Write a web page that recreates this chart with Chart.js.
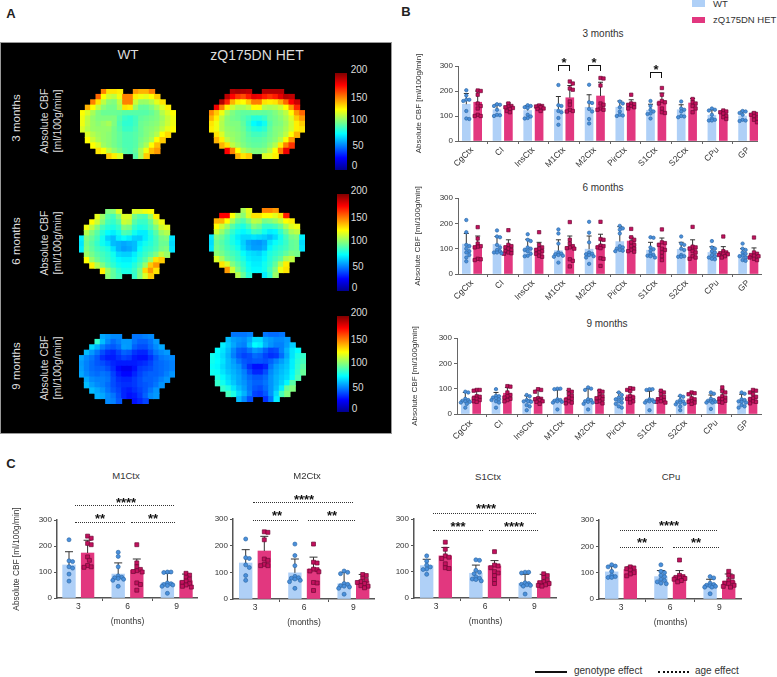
<!DOCTYPE html>
<html>
<head>
<meta charset="utf-8">
<title>Absolute CBF</title>
<script src="https://cdn.jsdelivr.net/npm/chart.js"></script>
<style>
  html, body { margin: 0; padding: 0; background: #fff; }
  body { position: relative; width: 777px; height: 677px; overflow: hidden; font-family: "Liberation Sans", Arial, sans-serif; filter: blur(0.35px); }
  canvas { position: absolute; }
  .txt { position: absolute; white-space: nowrap; transform: translate(-50%, -50%); line-height: 1; color: #333; }
  .ln { position: absolute; box-sizing: border-box; }
  #panelA { position: absolute; left: 0; top: 42px; width: 392px; height: 392px; background: #000; border: 1px solid #999; box-sizing: border-box; }
</style>
</head>
<body>
<div id="panelA"></div>
<script>
// Datos
const regions = ['CgCtx', 'CI', 'InsCtx', 'M1Ctx', 'M2Ctx', 'PirCtx', 'S1Ctx', 'S2Ctx', 'CPu', 'GP'];
const ages = ['3', '6', '9'];
const yTicks = [0, 100, 200, 300];
const colorbarLabels = [200, 150, 100, 50, 0];

// B, 3 meses
const m3WtMean = [147, 125, 122, 127, 135, 135, 123, 125, 103, 100];
const m3WtTop = [190, 147, 142, 178, 185, 160, 147, 145, 125, 120];
const m3HetMean = [155, 138, 135, 173, 180, 148, 160, 152, 112, 105];
const m3HetTop = [200, 152, 145, 222, 235, 165, 192, 170, 122, 115];
const m3WtPts = [
  [203, 182, 165, 165, 160, 120, 90, 88],
  [147, 145, 140, 125, 105, 103, 100],
  [143, 140, 135, 132, 105, 98, 92, 90],
  [224, 143, 140, 120, 115, 92, 65],
  [225, 155, 152, 128, 118, 88, 70],
  [158, 150, 135, 118, 105, 102, 100],
  [160, 140, 125, 118, 110, 108, 90],
  [158, 130, 125, 118, 100, 98, 95],
  [130, 125, 122, 105, 90, 85, 82, 82],
  [120, 118, 112, 105, 85, 82, 80]
];
const m3HetPts = [
  [202, 200, 185, 150, 140, 130, 105, 100, 100],
  [150, 140, 138, 135, 132, 128, 120, 115],
  [142, 140, 138, 135, 130, 128, 120],
  [238, 230, 210, 205, 158, 145, 125, 120, 118],
  [252, 250, 222, 150, 145, 130, 125, 125],
  [185, 150, 148, 145, 140, 135, 130],
  [212, 185, 160, 155, 150, 130, 115, 112],
  [168, 155, 150, 140, 130, 115],
  [122, 118, 115, 110, 100, 95, 88],
  [112, 108, 105, 100, 90, 85, 75]
];

// B, 6 meses
const m6WtMean = [118, 117, 103, 92, 98, 128, 94, 97, 85, 78];
const m6WtTop = [160, 148, 137, 135, 150, 187, 125, 125, 108, 100];
const m6HetMean = [112, 112, 102, 107, 112, 130, 122, 108, 85, 77];
const m6HetTop = [150, 135, 125, 150, 157, 145, 142, 135, 108, 103];
const m6WtPts = [
  [213, 165, 115, 110, 100, 90, 85, 75, 65, 50],
  [172, 148, 145, 115, 105, 95, 90, 85, 85, 82],
  [157, 135, 130, 105, 100, 95, 90, 80, 72, 70],
  [176, 160, 120, 85, 80, 78, 75, 72, 68, 45],
  [206, 163, 125, 85, 80, 78, 75, 70, 65, 40],
  [190, 180, 175, 160, 110, 105, 100, 95, 92, 90],
  [145, 143, 105, 98, 92, 80, 75, 72, 70, 65],
  [148, 120, 115, 100, 95, 75, 70, 68, 68],
  [130, 105, 100, 90, 85, 75, 70, 65, 60, 58],
  [120, 100, 95, 85, 80, 72, 70, 65, 55, 52]
];
const m6HetPts = [
  [185, 140, 120, 110, 108, 105, 60, 58, 55],
  [173, 115, 110, 105, 100, 95, 90, 85, 82, 80],
  [165, 115, 105, 100, 95, 90, 85, 80, 72, 68],
  [205, 135, 120, 110, 105, 102, 100, 58, 52, 30],
  [206, 138, 135, 112, 110, 105, 102, 62, 60, 32],
  [178, 145, 135, 125, 115, 110, 100, 95, 90, 88],
  [176, 125, 122, 115, 100, 95, 85, 70, 55],
  [186, 108, 105, 100, 90, 85, 70, 65, 60],
  [148, 90, 85, 82, 80, 78, 75, 70, 65],
  [144, 85, 80, 75, 72, 70, 65, 60, 55]
];

// B, 9 meses
const m9WtMean = [53, 65, 54, 58, 57, 62, 56, 48, 54, 54];
const m9WtTop = [85, 85, 72, 95, 100, 85, 90, 70, 75, 78];
const m9HetMean = [72, 82, 65, 66, 67, 75, 65, 60, 68, 67];
const m9HetTop = [95, 105, 95, 92, 92, 100, 90, 82, 95, 90];
const m9WtPts = [
  [88, 85, 60, 55, 52, 50, 48, 45, 40, 25],
  [98, 72, 70, 65, 62, 58, 55, 50, 45, 25],
  [75, 70, 55, 52, 50, 50, 48, 35, 30, 15],
  [100, 100, 98, 58, 55, 52, 50, 48, 45, 18],
  [105, 100, 95, 58, 55, 50, 48, 45, 40, 18],
  [85, 75, 65, 60, 58, 50, 45, 40, 30, 25],
  [98, 98, 95, 58, 55, 52, 50, 48, 45, 15],
  [72, 68, 55, 50, 48, 45, 40, 38, 30, 15],
  [85, 80, 60, 55, 52, 50, 48, 45, 45, 20],
  [85, 80, 58, 55, 50, 48, 45, 35, 30, 25]
];
const m9HetPts = [
  [95, 95, 92, 70, 68, 62, 60, 55, 50, 48],
  [110, 108, 85, 75, 70, 65, 60, 55, 50],
  [98, 95, 88, 62, 60, 58, 55, 50, 48, 40],
  [95, 88, 80, 72, 65, 60, 55, 50, 45, 42],
  [92, 88, 78, 70, 65, 62, 58, 50, 48, 42],
  [102, 100, 95, 90, 70, 65, 60, 58, 50, 45],
  [92, 85, 78, 68, 62, 58, 55, 50, 48, 45],
  [85, 82, 78, 62, 58, 50, 48, 45, 40],
  [105, 90, 85, 70, 65, 60, 58, 52, 48, 45],
  [95, 92, 85, 78, 68, 62, 58, 50, 48, 42]
];

// A, mapas de CBF (ml/100g/min), una fila por linea
const _ = null;
const brainWt3 = [
  [_, _, _, _, 150, 130, 130, 128, _, _, 145, 140, 140, 150, _, _, _, _],
  [_, _, _, 155, 125, 115, 112, 122, 150, 150, 128, 122, 120, 125, 135, _, _, _],
  [_, _, 150, 130, 112, 102, 100, 112, 150, 150, 115, 105, 105, 110, 120, 130, _, _],
  [_, 140, 125, 112, 102, 98, 98, 108, 130, 128, 105, 95, 95, 100, 108, 118, 128, _],
  [125, 118, 108, 100, 96, 96, 96, 95, 92, 92, 92, 92, 92, 95, 100, 110, 118, 125],
  [122, 112, 104, 100, 100, 100, 100, 92, 86, 84, 88, 94, 96, 98, 100, 106, 114, 122],
  [122, 112, 105, 102, 105, 108, 100, 90, 84, 84, 88, 96, 98, 100, 102, 108, 115, 122],
  [118, 110, 105, 104, 104, 104, 98, 92, 86, 86, 90, 96, 100, 102, 105, 112, 120, 125],
  [_, 118, 110, 106, 104, 102, 98, 94, 90, 90, 92, 96, 100, 104, 110, 125, 132, _],
  [_, 125, 115, 108, 104, 102, 98, 94, 90, 90, 92, 98, 102, 108, 125, 135, _, _],
  [_, _, 125, 118, 106, 102, 98, 94, 90, 90, 92, 100, 108, 125, 138, _, _, _],
  [_, _, _, 130, 124, 112, 104, 98, 92, 90, 94, 108, 122, 138, 145, _, _, _],
  [_, _, _, _, _, 135, 128, 118, _, _, 92, 108, 135, _, _, _, _, _]
];
const brainHet3 = [
  [_, _, _, _, 190, 192, 190, 188, _, _, 190, 190, 190, 190, _, _, _, _],
  [_, _, _, 188, 175, 165, 160, 170, 180, 178, 170, 165, 170, 180, 190, 188, _, _],
  [_, _, 190, 168, 140, 128, 125, 135, 150, 150, 130, 128, 130, 140, 155, 175, 185, _],
  [_, 178, 150, 128, 115, 108, 108, 112, 125, 125, 110, 108, 110, 115, 125, 145, 168, _],
  [148, 135, 122, 108, 100, 96, 94, 94, 95, 95, 94, 96, 100, 105, 112, 125, 145, 155],
  [140, 128, 112, 102, 98, 96, 92, 88, 82, 82, 86, 95, 98, 102, 108, 118, 135, 145],
  [130, 122, 110, 102, 100, 100, 94, 85, 75, 72, 78, 92, 98, 100, 106, 115, 128, 135],
  [128, 122, 110, 104, 102, 100, 96, 88, 82, 80, 84, 94, 100, 102, 108, 116, 128, 130],
  [_, 130, 118, 106, 104, 102, 98, 92, 88, 88, 90, 96, 100, 104, 112, 125, 140, _],
  [_, 140, 128, 112, 106, 102, 98, 94, 92, 92, 94, 98, 102, 110, 124, 145, _, _],
  [_, _, 140, 130, 112, 106, 100, 96, 94, 94, 96, 102, 110, 128, 150, 165, _, _],
  [_, _, _, 175, 150, 125, 110, 104, 100, 100, 102, 110, 125, 150, 178, _, _, _],
  [_, _, _, _, _, 140, 130, 135, _, _, 118, 120, 128, _, _, _, _, _]
];
const brainWt6 = [
  [_, _, _, _, _, 100, 102, 118, _, _, 118, 118, 122, 125, _, _, _, _],
  [_, _, _, 120, 105, 92, 88, 100, 118, 118, 98, 92, 90, 105, 128, _, _, _],
  [_, _, 125, 115, 100, 88, 85, 92, 115, 112, 92, 86, 86, 95, 112, 122, _, _],
  [_, 122, 112, 100, 88, 82, 80, 85, 100, 98, 85, 80, 82, 90, 100, 115, 120, _],
  [_, 110, 100, 92, 82, 75, 72, 78, 90, 88, 78, 72, 72, 82, 92, 105, 110, _],
  [72, 100, 95, 88, 78, 66, 62, 72, 76, 72, 66, 65, 72, 80, 88, 98, 100, 70],
  [70, 98, 92, 85, 78, 72, 62, 60, 58, 60, 62, 72, 78, 82, 88, 96, 96, 68],
  [72, 100, 94, 88, 84, 80, 70, 60, 56, 58, 62, 75, 82, 85, 90, 98, 100, 70],
  [_, 105, 98, 92, 88, 84, 78, 68, 66, 66, 72, 80, 86, 92, 100, 112, 105, _],
  [_, 125, 105, 96, 90, 86, 80, 74, 72, 72, 76, 84, 92, 105, 130, 135, _, _],
  [_, _, 128, 110, 100, 90, 84, 78, 76, 76, 82, 90, 105, 135, 145, _, _, _],
  [_, _, _, _, 128, 105, 94, 85, 80, 80, 86, 98, 132, 145, 130, _, _, _],
  [_, _, _, _, _, 102, 94, 88, _, _, 85, 100, 118, 135, _, _, _, _]
];
const brainHet6 = [
  [_, _, _, _, _, _, 108, 120, _, _, 150, 150, 145, _, _, _, _, _],
  [_, _, 175, 175, 125, 108, 102, 118, 130, 130, 125, 125, 120, 130, 170, _, _, _],
  [_, 140, 140, 125, 108, 95, 90, 100, 112, 110, 98, 100, 105, 112, 125, 128, _, _],
  [_, 125, 115, 105, 92, 84, 80, 88, 100, 96, 85, 85, 88, 95, 108, 118, 122, _],
  [_, 115, 105, 95, 85, 78, 74, 78, 88, 86, 78, 72, 74, 84, 96, 108, 112, _],
  [70, 100, 96, 88, 80, 72, 68, 68, 70, 68, 66, 62, 68, 78, 88, 98, 100, 72],
  [68, 96, 92, 86, 80, 74, 66, 58, 55, 54, 58, 70, 76, 80, 86, 94, 96, 68],
  [70, 98, 94, 88, 84, 78, 68, 60, 56, 56, 60, 74, 80, 84, 88, 94, 96, 70],
  [_, 102, 98, 92, 88, 84, 76, 70, 68, 66, 72, 80, 84, 88, 94, 100, 98, _],
  [_, 118, 108, 96, 92, 86, 80, 72, 70, 70, 74, 82, 88, 94, 108, 112, _, _],
  [_, _, 130, 118, 100, 92, 84, 76, 72, 72, 78, 84, 94, 110, 128, _, _, _],
  [_, _, _, 145, 115, 98, 88, 78, 74, 74, 78, 88, 100, 122, 130, _, _, _],
  [_, _, _, _, _, 110, 95, 82, _, _, 72, 84, 105, _, _, _, _, _]
];
const brainWt9 = [
  [_, _, _, _, 58, 55, 52, 52, _, _, 48, 48, 50, 52, _, _, _, _],
  [_, _, _, 85, 62, 52, 46, 50, 55, 55, 48, 44, 44, 48, 55, _, _, _],
  [_, _, 68, 60, 50, 44, 42, 46, 56, 55, 44, 40, 40, 46, 52, 58, _, _],
  [_, 62, 55, 48, 40, 34, 32, 38, 44, 42, 35, 32, 32, 40, 48, 52, 55, _],
  [58, 52, 48, 42, 34, 30, 30, 34, 38, 36, 30, 28, 28, 34, 42, 48, 50, 52],
  [55, 50, 46, 42, 40, 36, 32, 30, 30, 30, 30, 32, 34, 38, 44, 46, 48, 50],
  [56, 50, 46, 44, 44, 40, 34, 26, 22, 22, 28, 36, 38, 40, 44, 46, 48, 50],
  [58, 52, 48, 46, 48, 46, 38, 30, 26, 26, 32, 38, 42, 44, 44, 46, 50, 54],
  [_, 58, 52, 50, 50, 48, 40, 34, 32, 32, 36, 40, 44, 44, 46, 50, 54, _],
  [_, 62, 56, 52, 50, 46, 40, 36, 34, 34, 36, 40, 42, 44, 48, 54, _, _],
  [_, _, 62, 58, 54, 48, 42, 38, 32, 30, 34, 38, 42, 48, 54, _, _, _],
  [_, _, _, 60, 58, 52, 48, 40, 32, 28, 30, 36, 44, 52, 55, _, _, _],
  [_, _, _, _, _, 52, 50, 42, _, _, 28, 32, 38, _, _, _, _, _]
];
const brainHet9 = [
  [_, _, _, _, 48, 48, 48, 50, _, _, 48, 46, 46, 48, _, _, _, _],
  [_, _, _, 62, 56, 54, 52, 58, 68, 68, 58, 55, 52, 52, 55, _, _, _],
  [_, _, 72, 65, 58, 52, 50, 62, 75, 72, 60, 54, 50, 50, 56, 65, _, _],
  [_, 75, 70, 62, 52, 44, 42, 48, 55, 52, 44, 38, 40, 50, 60, 70, 75, _],
  [78, 74, 68, 60, 50, 42, 38, 40, 46, 44, 38, 34, 36, 46, 58, 70, 80, 85],
  [78, 75, 70, 62, 56, 48, 42, 40, 42, 42, 40, 44, 50, 56, 62, 72, 82, 88],
  [76, 74, 68, 62, 58, 54, 44, 34, 28, 28, 32, 48, 56, 60, 64, 72, 84, 92],
  [78, 76, 70, 64, 60, 56, 50, 40, 32, 32, 40, 52, 58, 62, 66, 74, 86, 95],
  [_, 80, 74, 68, 62, 58, 52, 46, 42, 42, 46, 54, 60, 64, 68, 76, 90, _],
  [_, 85, 78, 70, 64, 58, 54, 48, 44, 44, 48, 54, 60, 66, 74, 92, _, _],
  [_, _, 85, 80, 70, 62, 56, 48, 42, 40, 46, 54, 62, 72, 95, 100, _, _],
  [_, _, _, 88, 80, 68, 60, 50, 38, 36, 42, 54, 68, 88, 100, _, _, _],
  [_, _, _, _, _, 62, 52, 40, _, _, 34, 48, 72, _, _, _, _, _]
];

const WT_BAR = '#afd0f7', HET_BAR = '#e2377f';
const WT_DOT = '#4a90dc', WT_EDGE = '#2f6aa8', HET_DOT = '#c4105e', HET_EDGE = '#6d0a35';
const INK = '#333';
const TOP_ROOM = 18;

// Helpers para texto y lineas en la pagina
function addText(txt, x, y, size, opts = {}) {
  const d = document.createElement('div');
  d.className = 'txt';
  d.textContent = txt;
  d.style.left = x + 'px';
  d.style.top = y + 'px';
  d.style.fontSize = size + 'px';
  if (opts.color) d.style.color = opts.color;
  if (opts.bold) d.style.fontWeight = 'bold';
  if (opts.left) d.style.transform = 'translate(0, -50%)';
  if (opts.rot) d.style.transform = 'translate(-50%, -50%) rotate(' + opts.rot + 'deg)';
  document.body.appendChild(d);
}

function addLine(x0, x1, y, border) {
  const d = document.createElement('div');
  d.className = 'ln';
  d.style.left = x0 + 'px';
  d.style.top = y + 'px';
  d.style.width = (x1 - x0) + 'px';
  d.style.height = '0';
  d.style.borderTop = border;
  document.body.appendChild(d);
}

function addBracket(x0, x1, top, bottom) {
  const d = document.createElement('div');
  d.className = 'ln';
  d.style.left = x0 + 'px';
  d.style.top = top + 'px';
  d.style.width = (x1 - x0) + 'px';
  d.style.height = (bottom - top) + 'px';
  d.style.border = '1.5px solid #111';
  d.style.borderBottom = 'none';
  document.body.appendChild(d);
}

function addStars(txt, x, y) {
  addText(txt, x, y + 2.5, 13, { color: '#111', bold: true });
}

function addCanvas(left, top, w, h) {
  const c = document.createElement('canvas');
  c.width = w;
  c.height = h;
  c.style.left = left + 'px';
  c.style.top = top + 'px';
  document.body.appendChild(c);
  return c;
}

// Mapa de color tipo jet sobre 0-200
function jet(v) {
  const t = v / 200;
  const f = p => Math.round(255 * Math.max(0, Math.min(1, 1.5 - Math.abs(4 * t - p))));
  return 'rgb(' + f(3) + ',' + f(2) + ',' + f(1) + ')';
}

// Un mapa cerebral como scatter de celdas cuadradas
function brainMap(rows, left, top) {
  const cells = [];
  rows.forEach((row, r) => row.forEach((v, c) => {
    if (v !== null) cells.push({ x: c + 0.5, y: r + 0.5, v: v });
  }));
  const canvas = addCanvas(left, top, 96, 70);
  canvas.style.filter = 'blur(0.6px)';
  new Chart(canvas, {
    type: 'scatter',
    data: {
      datasets: [{
        data: cells,
        clip: false,
        pointStyle: 'rect',
        pointRadius: 4.5,
        pointBorderWidth: 0,
        pointBackgroundColor: ctx => jet(ctx.raw.v)
      }]
    },
    options: {
      animation: false,
      responsive: false,
      layout: { padding: 0, autoPadding: false },
      plugins: { legend: { display: false }, tooltip: { enabled: false } },
      scales: {
        x: { type: 'linear', min: 0, max: 18, display: false },
        y: { type: 'linear', min: 0, max: 13, reverse: true, display: false }
      }
    }
  });
}

function colorbar(x, top, bottom, labelX, labelYs) {
  const d = document.createElement('div');
  d.style.cssText = 'position:absolute;left:' + x + 'px;top:' + top + 'px;width:12px;height:' + (bottom - top) + 'px;' +
    'background:linear-gradient(to top,#00008f 0%,#0000ff 12.5%,#00ffff 37.5%,#ffff00 62.5%,#ff0000 87.5%,#800000 100%);';
  document.body.appendChild(d);
  colorbarLabels.forEach((lab, i) => addText(String(lab), labelX + (lab >= 100 ? 8 : lab >= 50 ? 7 : 3.5), labelYs[i], 10, { color: '#ddd' }));
}

// Reparte los puntos dentro del ancho de la barra, como en un beeswarm
function swarm(vals, center, step, yScale, gap, maxOff) {
  const placed = [];
  return vals.map(v => {
    let best = 0, bestDist = -1;
    for (let k = 0; ; k++) {
      const off = (k % 2 ? (k + 1) / 2 : -k / 2) * gap * 0.5;
      if (Math.abs(off) > maxOff) break;
      const dist = Math.min(Infinity, ...placed.map(p => Math.hypot(p.off - off, (p.v - v) * yScale)));
      if (dist >= gap) { best = off; bestDist = dist; break; }
      if (dist > bestDist) { best = off; bestDist = dist; }
    }
    placed.push({ off: best, v: v });
    return { x: center + best / step, y: v };
  });
}

// Panel de barras con error y puntos individuales
function barPanel(cfg) {
  const top = cfg.y300 - TOP_ROOM;
  const height = cfg.y0 - top + cfg.below;
  const width = cfg.axisRight - cfg.left;
  const yScale = (cfg.y0 - cfg.y300) / 300;
  const canvas = addCanvas(cfg.left, top, width, height);

  const wtDots = [], hetDots = [];
  cfg.wtPts.forEach((vals, i) => wtDots.push(...swarm(vals, i - cfg.off / cfg.step, cfg.step, yScale, cfg.gap, cfg.spread)));
  cfg.hetPts.forEach((vals, i) => hetDots.push(...swarm(vals, i + cfg.off / cfg.step, cfg.step, yScale, cfg.gap, cfg.spread)));

  // Barras de error, con el mismo eje que los datos
  const errorBars = {
    id: 'errorBars',
    afterDatasetDraw(chart, args) {
      if (args.index !== 1) return;
      const { x, y } = chart.scales;
      const ctx = chart.ctx;
      const one = (i, dx, mean, top) => {
        const px = x.getPixelForValue(i + dx / cfg.step);
        ctx.beginPath();
        ctx.moveTo(px, y.getPixelForValue(mean));
        ctx.lineTo(px, y.getPixelForValue(top));
        ctx.moveTo(px - cfg.cap, y.getPixelForValue(top));
        ctx.lineTo(px + cfg.cap, y.getPixelForValue(top));
        ctx.stroke();
      };
      ctx.save();
      ctx.strokeStyle = '#333';
      ctx.lineWidth = 1;
      cfg.wtMean.forEach((m, i) => one(i, -cfg.off, m, cfg.wtTop[i]));
      cfg.hetMean.forEach((m, i) => one(i, cfg.off, m, cfg.hetTop[i]));
      ctx.restore();
    }
  };

  new Chart(canvas, {
    type: 'bar',
    plugins: [errorBars],
    data: {
      datasets: [
        { label: 'WT', data: cfg.wtMean.map((m, i) => ({ x: i - cfg.off / cfg.step, y: m })), backgroundColor: WT_BAR, barThickness: cfg.barW, grouped: false, order: 3 },
        { label: 'zQ175DN HET', data: cfg.hetMean.map((m, i) => ({ x: i + cfg.off / cfg.step, y: m })), backgroundColor: HET_BAR, barThickness: cfg.barW, grouped: false, order: 2 },
        { type: 'scatter', data: wtDots, pointStyle: 'circle', pointRadius: cfg.dot, pointBackgroundColor: WT_DOT, pointBorderColor: WT_EDGE, pointBorderWidth: 0.7, order: 1 },
        { type: 'scatter', data: hetDots, pointStyle: 'rect', pointRadius: cfg.dot * 1.4, pointBackgroundColor: HET_DOT, pointBorderColor: HET_EDGE, pointBorderWidth: 0.7, order: 1 }
      ]
    },
    options: {
      animation: false,
      responsive: false,
      layout: { padding: { top: TOP_ROOM, right: 0, bottom: 0, left: 0 }, autoPadding: false },
      plugins: { legend: { display: false }, tooltip: { enabled: false } },
      scales: {
        x: {
          type: 'linear',
          offset: false,
          min: (cfg.axisX - cfg.first) / cfg.step,
          max: (cfg.axisRight - cfg.first) / cfg.step,
          afterBuildTicks: s => { s.ticks = cfg.cats.map((c, i) => ({ value: i })); },
          afterFit: s => { s.height = cfg.below; },
          border: { color: cfg.axisColor, width: cfg.axisWidth },
          grid: { drawOnChartArea: false, color: cfg.axisColor, tickLength: 3 },
          ticks: {
            autoSkip: false,
            maxRotation: cfg.rot,
            minRotation: cfg.rot,
            padding: 1,
            color: INK,
            font: { size: cfg.catSize, family: 'Liberation Sans' },
            callback: v => cfg.cats[v]
          },
          title: cfg.xTitle
            ? { display: true, text: cfg.xTitle, color: INK, font: { size: 8.5, family: 'Liberation Sans' }, padding: 0 }
            : { display: false }
        },
        y: {
          type: 'linear',
          min: 0,
          max: 300,
          afterBuildTicks: s => { s.ticks = yTicks.map(v => ({ value: v })); },
          afterFit: s => { s.width = cfg.axisX - cfg.left; },
          border: { color: cfg.axisColor, width: cfg.axisWidth },
          grid: { drawOnChartArea: false, color: cfg.axisColor, tickLength: 3 },
          ticks: { padding: 2, color: INK, font: { size: 8, family: 'Liberation Sans' } },
          title: cfg.yTitle
            ? { display: true, text: 'Absolute CBF [ml/100g/min]', color: INK, font: { size: cfg.titleSize, family: 'Liberation Sans' }, padding: 0 }
            : { display: false }
        }
      }
    }
  });
}

function initPage() {
  // A: mapas
  addText('A', 11, 13, 13, { color: '#222', bold: true });
  addText('WT', 128, 55, 13.5, { color: '#ddd' });
  addText('zQ175DN HET', 257, 55, 14, { color: '#ddd' });
  addText('3 months', 17, 118, 11.5, { color: '#ddd', rot: -90 });
  addText('6 months', 17, 241, 11.5, { color: '#ddd', rot: -90 });
  addText('9 months', 17, 366, 11.5, { color: '#ddd', rot: -90 });
  [121, 243, 368].forEach(y => {
    addText('Absolute CBF', 44, y, 10.5, { color: '#ddd', rot: -90 });
    addText('[ml/100g/min]', 57, y, 10.5, { color: '#ddd', rot: -90 });
  });
  brainMap(brainWt3, 80, 89);
  brainMap(brainHet3, 209, 89);
  brainMap(brainWt6, 79, 209);
  brainMap(brainHet6, 209, 208);
  brainMap(brainWt9, 79, 334);
  brainMap(brainHet9, 210, 332);
  colorbar(335, 73, 170, 351, [70, 98, 120, 146, 166]);
  colorbar(337, 194, 291, 351, [191, 218, 241, 267, 288]);
  colorbar(337, 316, 412, 351, [313, 340, 363, 388, 409]);

  // B: leyenda y regiones por edad
  addText('B', 406, 11, 13, { color: '#222', bold: true });
  const swatch = (top, h, color) => {
    const d = document.createElement('div');
    d.style.cssText = 'position:absolute;left:692px;width:13px;top:' + top + 'px;height:' + h + 'px;background:' + color;
    document.body.appendChild(d);
  };
  swatch(0, 7, WT_BAR);
  swatch(17, 6, HET_BAR);
  addText('WT', 713, 4, 9.5, { left: true });
  addText('zQ175DN HET', 713, 20, 9.5, { left: true });

  const regionCfg = { cats: regions, off: 5.7, step: 30.7, first: 472, barW: 8, rot: 45, catSize: 8.5, below: 36, dot: 1.7, gap: 3, spread: 4.5, cap: 2.5, axisColor: '#666', axisWidth: 1, yTitle: true, titleSize: 8 };
  addText('3 months', 603, 34, 10);
  barPanel({ ...regionCfg, left: 414, axisX: 458, axisRight: 758, y300: 66, y0: 141,
    wtMean: m3WtMean, wtTop: m3WtTop, hetMean: m3HetMean, hetTop: m3HetTop, wtPts: m3WtPts, hetPts: m3HetPts });
  addText('6 months', 603, 188, 10);
  barPanel({ ...regionCfg, left: 413, axisX: 458, axisRight: 762, y300: 198, y0: 274,
    wtMean: m6WtMean, wtTop: m6WtTop, hetMean: m6HetMean, hetTop: m6HetTop, wtPts: m6WtPts, hetPts: m6HetPts });
  addText('9 months', 607, 324, 10);
  barPanel({ ...regionCfg, left: 410, axisX: 457, axisRight: 762, y300: 338, y0: 414, first: 471,
    wtMean: m9WtMean, wtTop: m9WtTop, hetMean: m9HetMean, hetTop: m9HetTop, wtPts: m9WtPts, hetPts: m9HetPts });

  addBracket(558, 570, 65, 71);
  addStars('*', 564, 59);
  addBracket(588, 601, 65, 71);
  addStars('*', 594, 59);
  addBracket(650, 662, 72, 78);
  addStars('*', 656, 66);

  // C: evolucion por edad de cuatro regiones
  addText('C', 11, 463, 13, { color: '#222', bold: true });
  const pick = (a, b, c, i) => [a[i], b[i], c[i]];
  const agePanel = (i, extra) => barPanel({
    cats: ages, off: 9.3, step: 49.2, barW: 12.7, rot: 0, catSize: 8.5, below: 29, dot: 2, gap: 3.6, spread: 7, cap: 4,
    axisColor: '#555', axisWidth: 1.5, xTitle: '(months)', titleSize: 8.3,
    wtMean: pick(m3WtMean, m6WtMean, m9WtMean, i), wtTop: pick(m3WtTop, m6WtTop, m9WtTop, i),
    hetMean: pick(m3HetMean, m6HetMean, m9HetMean, i), hetTop: pick(m3HetTop, m6HetTop, m9HetTop, i),
    wtPts: pick(m3WtPts, m6WtPts, m9WtPts, i), hetPts: pick(m3HetPts, m6HetPts, m9HetPts, i),
    ...extra
  });
  agePanel(3, { left: 12, axisX: 57, axisRight: 198, y300: 520, y0: 598, first: 78.3, yTitle: true });
  agePanel(4, { left: 190, axisX: 233, axisRight: 375, y300: 519, y0: 599, first: 255 });
  agePanel(6, { left: 372, axisX: 414, axisRight: 557, y300: 519, y0: 598, first: 436 });
  agePanel(8, { left: 557, axisX: 599, axisRight: 742, y300: 520, y0: 599, first: 621 });
  addText('M1Ctx', 126, 476, 9.5);
  addText('M2Ctx', 307, 476, 9.5);
  addText('S1Ctx', 488, 477, 9.5);
  addText('CPu', 671, 477, 9.5);

  const DOTTED = '1px dotted #333';
  addLine(75, 174, 505, DOTTED); addStars('****', 126, 499);
  addLine(75, 125, 522, DOTTED); addStars('**', 100, 515);
  addLine(131, 175, 522, DOTTED); addStars('**', 153, 515);

  addLine(253, 353, 502, DOTTED); addStars('****', 304, 496);
  addLine(253, 298, 520, DOTTED); addStars('**', 277, 512);
  addLine(308, 355, 520, DOTTED); addStars('**', 332, 512);

  addLine(433, 536, 513, DOTTED); addStars('****', 486, 505);
  addLine(433, 483, 530, DOTTED); addStars('***', 458, 523);
  addLine(489, 538, 530, DOTTED); addStars('****', 514, 523);

  addLine(620, 717, 530, DOTTED); addStars('****', 669, 522);
  addLine(620, 663, 547, DOTTED); addStars('**', 642, 539);
  addLine(673, 719, 547, DOTTED); addStars('**', 696, 539);

  // Leyenda de lineas abajo
  addLine(535, 567, 671, '2px solid #111');
  addText('genotype effect', 574, 671, 10, { left: true });
  addLine(658, 689, 671, '2px dotted #111');
  addText('age effect', 695, 671, 10, { left: true });
}

document.addEventListener('DOMContentLoaded', initPage);
</script>
</body>
</html>
